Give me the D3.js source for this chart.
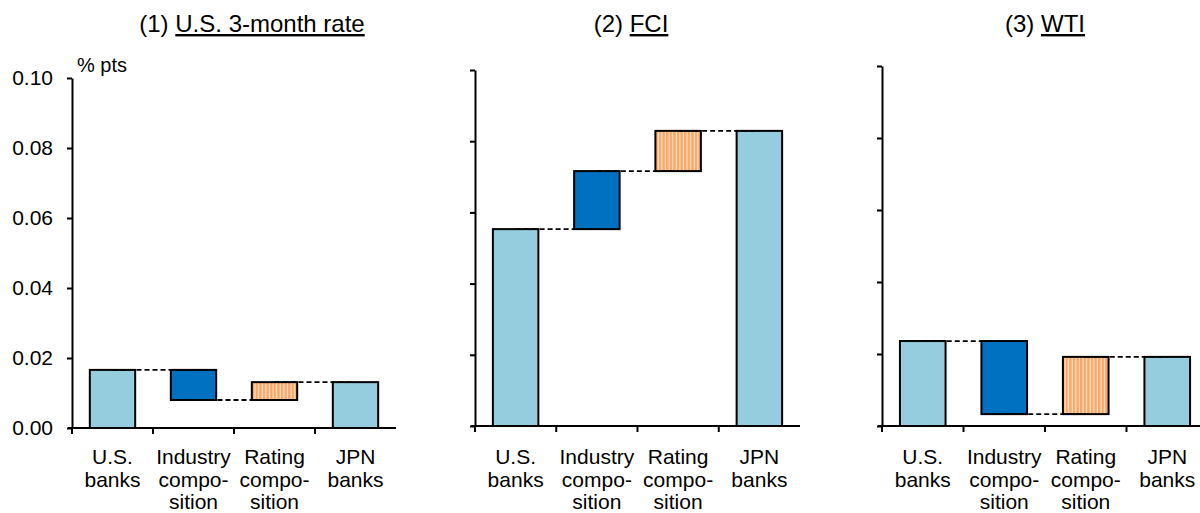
<!DOCTYPE html>
<html>
<head>
<meta charset="utf-8">
<script src="https://cdn.jsdelivr.net/npm/d3@7"></script>
<style>
  html, body { margin: 0; padding: 0; background: #fff; }
  svg { display: block; font-family: "Liberation Sans", Arial, sans-serif; }
</style>
</head>
<body>
<svg id="chart" width="1200" height="513"></svg>
<script>
// Decomposition of the sensitivity gap between U.S. and Japanese banks (% pts)
const categories = [
  ["U.S.", "banks"],
  ["Industry", "compo-", "sition"],
  ["Rating", "compo-", "sition"],
  ["JPN", "banks"]
];
const panelNumbers = ["(1)", "(2)", "(3)"];
const panelNames = ["U.S. 3-month rate", "FCI", "WTI"];

const usBanks        = [0.0166, 0.0553, 0.0236];
const industryEffect = [-0.0086, 0.0163, -0.0203];
const ratingEffect   = [0.0051, 0.0113, 0.0159];
const jpnBanks       = [0.0131, 0.0829, 0.0192];

const yTicks = [0, 0.02, 0.04, 0.06, 0.08, 0.10];
const yUnit = "% pts";

// panel frames (pixels)
const frames = [
  { x0: 72,  x1: 396,  yTop: 78, yBot: 428, titleX: 252, labels: true },
  { x0: 475, x1: 800,  yTop: 70, yBot: 426, titleX: 631, labels: false },
  { x0: 882, x1: 1208, yTop: 66, yBot: 426, titleX: 1045, labels: false }
];

const colors = { total: "#96CDDE", industry: "#0070C0" };

const svg = d3.select("#chart");

// vertical-stripe fill for the rating bars
const defs = svg.append("defs");
const pat = defs.append("pattern")
  .attr("id", "stripes")
  .attr("patternUnits", "userSpaceOnUse")
  .attr("width", 3.6).attr("height", 10);
pat.append("rect").attr("width", 3.6).attr("height", 10).attr("fill", "#FFE6D0");
pat.append("rect").attr("x", 0).attr("width", 2.5).attr("height", 10).attr("fill", "#F9A868");

frames.forEach((f, p) => {
  const g = svg.append("g");

  const x = d3.scaleBand()
    .domain(d3.range(categories.length))
    .range([f.x0, f.x1])
    .paddingInner(0.44)
    .paddingOuter(0.22);
  const y = d3.scaleLinear().domain([0, 0.10]).range([f.yBot, f.yTop]);

  // waterfall segments: [start, end, fill]
  const afterIndustry = usBanks[p] + industryEffect[p];
  const segs = [
    { i: 0, a: 0, b: usBanks[p], fill: colors.total },
    { i: 1, a: usBanks[p], b: afterIndustry, fill: colors.industry },
    { i: 2, a: afterIndustry, b: afterIndustry + ratingEffect[p], fill: "url(#stripes)" },
    { i: 3, a: 0, b: jpnBanks[p], fill: colors.total }
  ];

  // y axis
  const yAxis = d3.axisLeft(y)
    .tickValues(yTicks)
    .tickSize(5)
    .tickSizeOuter(0)
    .tickPadding(14)
    .tickFormat(f.labels ? d3.format(".2f") : () => "");
  const ya = g.append("g").attr("transform", `translate(${f.x0},0)`).call(yAxis);
  ya.select(".domain").attr("stroke", "#000").attr("stroke-width", 2);
  ya.selectAll(".tick line").attr("stroke", "#000").attr("stroke-width", 2);
  ya.selectAll(".tick text")
    .attr("font-size", 21).attr("fill", "#000")
    .attr("font-family", "Liberation Sans, Arial, sans-serif");

  // x axis baseline with category ticks at band boundaries
  g.append("line")
    .attr("x1", f.x0 - 4).attr("x2", f.x1)
    .attr("y1", f.yBot).attr("y2", f.yBot)
    .attr("stroke", "#000").attr("stroke-width", 2);
  const step = x.step();
  d3.range(categories.length).forEach(i => {
    const tx = f.x0 + step * i;
    g.append("line")
      .attr("x1", tx).attr("x2", tx)
      .attr("y1", f.yBot).attr("y2", f.yBot + 6)
      .attr("stroke", "#000").attr("stroke-width", 2);
  });

  // bars
  g.selectAll("rect.bar").data(segs).join("rect")
    .attr("class", "bar")
    .attr("x", d => x(d.i))
    .attr("width", x.bandwidth())
    .attr("y", d => y(Math.max(d.a, d.b)))
    .attr("height", d => Math.abs(y(d.a) - y(d.b)))
    .attr("fill", d => d.fill)
    .attr("stroke", "#000")
    .attr("stroke-width", 2);

  // dashed connectors between consecutive levels
  const conn = [
    { i: 0, v: usBanks[p] },
    { i: 1, v: afterIndustry },
    { i: 2, v: afterIndustry + ratingEffect[p] }
  ];
  g.selectAll("line.conn").data(conn).join("line")
    .attr("class", "conn")
    .attr("x1", d => x(d.i) + x.bandwidth() / 2)
    .attr("x2", d => x(d.i + 1) + x.bandwidth() / 2)
    .attr("y1", d => y(d.v)).attr("y2", d => y(d.v))
    .attr("stroke", "#000")
    .attr("stroke-width", 1.8)
    .attr("stroke-dasharray", "5,3");

  // category labels
  categories.forEach((lines, i) => {
    const t = g.append("text")
      .attr("text-anchor", "middle")
      .attr("font-size", 21)
      .attr("fill", "#000");
    lines.forEach((ln, k) => {
      t.append("tspan")
        .attr("x", x(i) + x.bandwidth() / 2)
        .attr("y", 464 + k * 22.5)
        .text(ln);
    });
  });

  // panel title with underlined name
  const title = g.append("text")
    .attr("x", f.titleX).attr("y", 32)
    .attr("text-anchor", "middle")
    .attr("font-size", 24)
    .attr("fill", "#000");
  title.append("tspan").text(panelNumbers[p] + " ");
  title.append("tspan").attr("text-decoration", "underline").text(panelNames[p]);

  if (f.labels) {
    g.append("text")
      .attr("x", f.x0 + 5).attr("y", f.yTop - 6)
      .attr("font-size", 20)
      .attr("fill", "#000")
      .text(yUnit);
  }
});
</script>
</body>
</html>
